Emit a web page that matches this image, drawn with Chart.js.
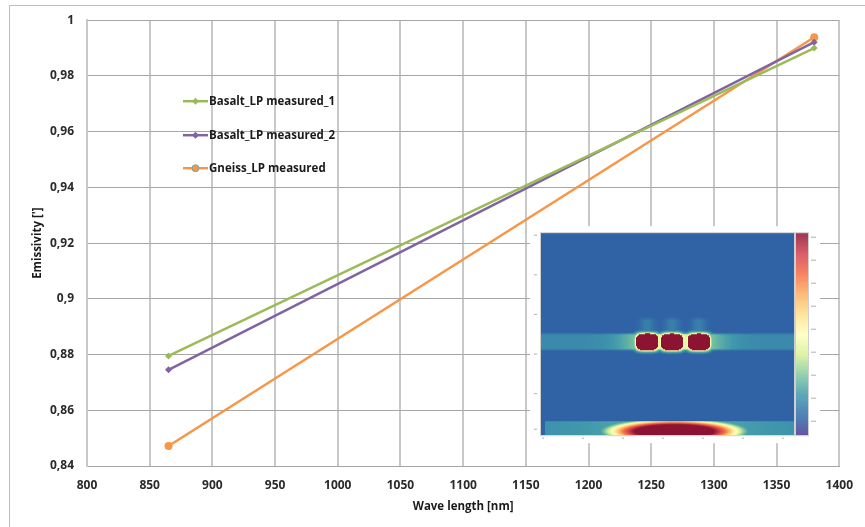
<!DOCTYPE html>
<html>
<head>
<meta charset="utf-8">
<script src="https://cdn.jsdelivr.net/npm/chart.js@4.4.1/dist/chart.umd.min.js"></script>
<style>
  html, body { margin: 0; padding: 0; background: #fff; overflow: hidden; }
  #wrap { position: relative; width: 865px; height: 527px; }
  #frame { position: absolute; left: 9px; top: 5px; width: 900px; height: 600px; border: 1.5px solid #bdbdbd; }
  canvas { position: absolute; left: 0; top: 0; }
</style>
</head>
<body>
<div id="wrap">
  <div id="frame"></div>
  <canvas id="myChart" width="865" height="527"></canvas>
</div>
<script>
// values
const wavelengths = [865, 1380];
const basalt1 = [0.8795, 0.9900];
const basalt2 = [0.8745, 0.9921];
const gneiss = [0.8472, 0.9939];
const seriesNames = ['Basalt_LP measured_1', 'Basalt_LP measured_2', 'Gneiss_LP measured'];
const xMin = 800, xMax = 1400, xStep = 50;
const yMin = 0.84, yMax = 1, yStep = 0.02;

const colors = ['#9bbb59', '#8064a2', '#f79646'];
const pointStyles = ['rectRot', 'rectRot', 'circle'];
const fontFamily = "'Open Sans'";

function toPoints(ys) {
  return wavelengths.map((x, i) => ({ x: x, y: ys[i] }));
}

// colour map for the inset picture (spectral, reversed)
const cmap = [
  [0.00, [70, 55, 140]], [0.08, [48, 98, 166]], [0.20, [62, 150, 172]],
  [0.30, [125, 200, 160]], [0.40, [215, 240, 150]], [0.50, [255, 255, 190]],
  [0.60, [254, 224, 139]], [0.70, [253, 174, 97]], [0.80, [244, 109, 67]],
  [0.90, [213, 62, 79]], [1.00, [140, 20, 50]]
];
function colorAt(t) {
  t = Math.max(0, Math.min(1, t));
  for (let i = 1; i < cmap.length; i++) {
    if (t <= cmap[i][0]) {
      const a = cmap[i - 1], b = cmap[i];
      const f = (t - a[0]) / (b[0] - a[0]);
      return [0, 1, 2].map(k => Math.round(a[1][k] + (b[1][k] - a[1][k]) * f));
    }
  }
  return cmap[cmap.length - 1][1];
}

function band(v, a, b, soft) {
  const s1 = Math.min(1, Math.max(0, (v - a) / soft + 0.5));
  const s2 = Math.min(1, Math.max(0, (b - v) / soft + 0.5));
  return Math.min(s1, s2);
}

function heat(u, v) {
  let f = 0.08;
  const blobU = [0.418, 0.516, 0.622];
  // middle band
  const mb = band(v, 0.495, 0.575, 0.012);
  if (mb > 0) {
    const core = 0.17 + 0.3 * Math.exp(-Math.pow((u - 0.52) / 0.16, 2));
    f = Math.max(f, core * mb + 0.08 * (1 - mb));
  }
  // faint stripes above the band
  const sb = band(v, 0.42, 0.495, 0.02);
  if (sb > 0) {
    blobU.forEach(uc => {
      const s = Math.exp(-Math.pow((u - uc) / 0.028, 2));
      f = Math.max(f, 0.08 + 0.07 * s * sb);
    });
  }
  // three hot spots
  blobU.forEach(uc => {
    const du = (u - uc) / 0.044, dv = (v - 0.536) / 0.041;
    const d = Math.pow(Math.pow(Math.abs(du), 3.5) + Math.pow(Math.abs(dv), 3.5), 1 / 3.5);
    const b = d < 1 ? 1 : 0.56 * Math.exp(-(d - 1) * 3.5);
    f = Math.max(f, b);
  });
  // bottom band
  if (v > 0.93 && u > 0.015) {
    f = Math.max(f, 0.19 + 0.06 * Math.exp(-Math.pow((u - 0.52) / 0.3, 2)));
    const du = (u - 0.525) / 0.235, dv = (v - 0.978) / 0.05;
    const d = Math.sqrt(du * du + dv * dv);
    f = Math.max(f, 1.15 * Math.exp(-0.7 * Math.pow(d, 4)));
  }
  return f;
}

let insetCanvas = null;
function buildInset(w, h) {
  const c = document.createElement('canvas');
  c.width = w; c.height = h;
  const g = c.getContext('2d');
  const img = g.createImageData(w, h);
  for (let j = 0; j < h; j++) {
    for (let i = 0; i < w; i++) {
      const col = colorAt(heat(i / w, j / h));
      const k = (j * w + i) * 4;
      img.data[k] = col[0]; img.data[k + 1] = col[1]; img.data[k + 2] = col[2]; img.data[k + 3] = 255;
    }
  }
  g.putImageData(img, 0, 0);
  return c;
}

const insetPlugin = {
  id: 'inset',
  afterDraw(chart) {
    const ctx = chart.ctx, ca = chart.chartArea;
    const boxX = ca.left + 443, boxY = ca.top + 206;
    const mapX = ca.left + 454, mapY = ca.top + 213, mapW = 253, mapH = 202;
    const barX = ca.left + 709, barW = 12;
    if (!insetCanvas) insetCanvas = buildInset(mapW, mapH);
    ctx.save();
    ctx.fillStyle = '#fff';
    ctx.fillRect(boxX, boxY, 290, 217);
    ctx.drawImage(insetCanvas, mapX, mapY);
    for (let j = 0; j < mapH; j++) {
      const col = colorAt(1 - j / mapH);
      ctx.fillStyle = 'rgb(' + col.join(',') + ')';
      ctx.fillRect(barX, mapY + j, barW, 1);
    }
    ctx.strokeStyle = '#cfcfcf';
    ctx.lineWidth = 1;
    ctx.strokeRect(mapX - 0.5, mapY - 0.5, mapW + 1, mapH + 1);
    ctx.strokeRect(barX - 0.5, mapY - 0.5, barW + 1, mapH + 1);
    // tiny ticks around the inset
    ctx.strokeStyle = '#b0b0b0';
    for (let i = 0; i <= 6; i++) {
      const tx = mapX + 1 + i * 40;
      ctx.beginPath(); ctx.moveTo(tx, mapY + mapH + 3); ctx.lineTo(tx + 2, mapY + mapH + 3); ctx.stroke();
    }
    [0, 0.2, 0.4, 0.6, 0.8, 0.98].forEach(f => {
      const ty = mapY + 2 + f * (mapH - 4);
      ctx.beginPath(); ctx.moveTo(mapX - 7, ty); ctx.lineTo(mapX - 4, ty); ctx.stroke();
    });
    for (let i = 0; i < 9; i++) {
      const ty = mapY + 4 + i * 23;
      ctx.beginPath(); ctx.moveTo(barX + barW + 3, ty); ctx.lineTo(barX + barW + 8, ty); ctx.stroke();
    }
    ctx.restore();
  }
};

const legendPlugin = {
  id: 'inLegend',
  afterDraw(chart) {
    const ctx = chart.ctx, ca = chart.chartArea;
    const x0 = ca.left + 96, rows = [81, 115, 148];
    ctx.save();
    seriesNames.forEach((name, i) => {
      const y = ca.top + rows[i];
      ctx.strokeStyle = colors[i];
      ctx.lineWidth = 2.5;
      ctx.beginPath(); ctx.moveTo(x0, y); ctx.lineTo(x0 + 25, y); ctx.stroke();
      ctx.fillStyle = colors[i];
      if (pointStyles[i] === 'circle') {
        ctx.beginPath(); ctx.arc(x0 + 12.5, y, 3.5, 0, Math.PI * 2); ctx.fill();
        ctx.strokeStyle = '#6fa8b8'; ctx.lineWidth = 1; ctx.stroke();
      } else {
        ctx.beginPath();
        ctx.moveTo(x0 + 12.5, y - 3.5); ctx.lineTo(x0 + 16, y);
        ctx.lineTo(x0 + 12.5, y + 3.5); ctx.lineTo(x0 + 9, y); ctx.closePath(); ctx.fill();
      }
      ctx.fillStyle = '#1a1a1a';
      ctx.font = 'bold 11.5px ' + fontFamily;
      ctx.textBaseline = 'middle';
      ctx.fillText(name, x0 + 26, y + 0.5);
    });
    ctx.restore();
  }
};

function commaTick(v) {
  return String(+v.toFixed(2)).replace('.', ',');
}

const ctx = document.getElementById('myChart').getContext('2d');
const myChart = new Chart(ctx, {
  type: 'line',
  data: {
    datasets: [basalt1, basalt2, gneiss].map((ys, i) => ({
      label: seriesNames[i],
      data: toPoints(ys),
      borderColor: colors[i],
      backgroundColor: colors[i],
      borderWidth: 2.5,
      pointStyle: pointStyles[i],
      pointRadius: i === 2 ? 4 : 3.5,
      pointBorderWidth: 0,
      tension: 0
    }))
  },
  options: {
    responsive: false,
    animation: false,
    layout: { padding: { left: 0, right: 22, top: 20, bottom: 0 } },
    plugins: {
      legend: { display: false },
      tooltip: { enabled: false }
    },
    scales: {
      x: {
        type: 'linear',
        min: xMin, max: xMax,
        afterFit: (s) => { s.height = 61; },
        ticks: { stepSize: xStep, padding: 12, color: '#2a2a2a', callback: (v) => String(v),
          font: { family: fontFamily, weight: 'bold', size: 12 } },
        grid: { color: '#c8c8c8', lineWidth: 2, drawTicks: false },
        border: { color: '#a6a6a6', width: 1 },
        title: { display: true, text: 'Wave length [nm]', color: '#1a1a1a', padding: { top: 0, bottom: 13 },
          font: { family: fontFamily, weight: 'bold', size: 11.5 } }
      },
      y: {
        min: yMin, max: yMax,
        afterFit: (s) => { s.width = 87; },
        ticks: { stepSize: yStep, padding: 13, color: '#2a2a2a', callback: commaTick,
          font: { family: fontFamily, weight: 'bold', size: 12 } },
        grid: { color: '#a6a6a6', lineWidth: 1, drawTicks: false },
        border: { color: '#c8c8c8', width: 2 },
        title: { display: true, text: "Emissivity [']", color: '#1a1a1a', padding: { top: 31, bottom: 0 },
          font: { family: fontFamily, weight: 'bold', size: 11.5 } }
      }
    }
  },
  plugins: [insetPlugin, legendPlugin]
});
</script>
</body>
</html>
